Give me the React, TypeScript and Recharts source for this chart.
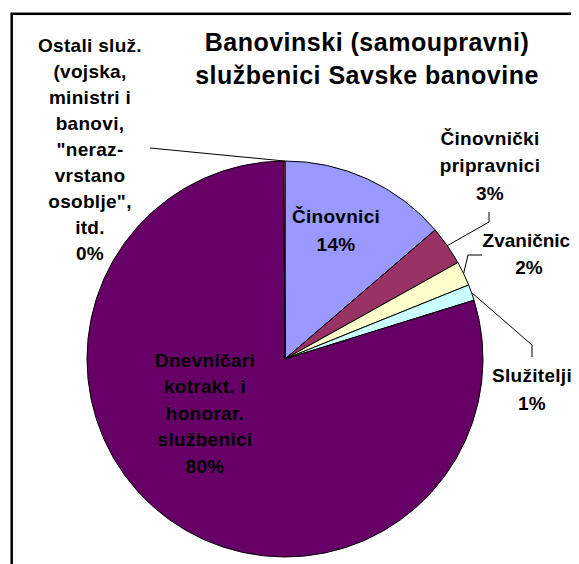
import React from 'react';
import { PieChart, Pie, Cell } from 'recharts';

const categories = [
  'Činovnici',
  'Činovnički pripravnici',
  'Zvaničnici',
  'Služitelji',
  'Dnevničari kotrakt. i honorar. službenici',
  'Ostali služ. (vojska, ministri i banovi, "neraz-vrstano osoblje", itd.)',
];
const values = [13.7, 3.2, 2.0, 1.3, 79.7, 0.1];
const labelLines = [
  ['Činovnici'],
  ['Činovnički', 'pripravnici'],
  ['Zvaničnici'],
  ['Služitelji'],
  ['Dnevničari', 'kotrakt. i', 'honorar.', 'službenici'],
  ['Ostali služ.', '(vojska,', 'ministri i', 'banovi,', '"neraz-', 'vrstano', 'osoblje",', 'itd.'],
];
const colors = ['#9999FF', '#993366', '#FFFFCC', '#CCFFFF', '#660066', '#FF8080'];
const titleLines = ['Banovinski (samoupravni)', 'službenici Savske banovine'];

const data = categories.map((name, i) => ({ name, value: values[i], idx: i }));

// label placement relative to pie centre (layout only)
type Layout = { tx: number; ty: number; lh: number; ls: number; path?: [number, number][] };
const labelLayout: Layout[] = [
  { tx: 51, ty: -143, lh: 28, ls: 0.3 },
  { tx: 205, ty: -221, lh: 27.5, ls: 0.3, path: [[204, -137], [204, -147]] },
  { tx: 244, ty: -119, lh: 27.5, ls: 0, path: [[183, -104], [197, -104]] },
  { tx: 247, ty: 16, lh: 28, ls: 0.3, path: [[247, -14], [247, -2]] },
  { tx: -80, ty: 1, lh: 26.5, ls: 0.3 },
  { tx: -195, ty: -314, lh: 26, ls: 0.3, path: [[-135, -211]] },
];

const FONT = '"Liberation Sans", Arial, sans-serif';
const RAD = Math.PI / 180;

const renderLabel = (props: any) => {
  const { cx, cy, midAngle, outerRadius, percent, index } = props;
  const lay = labelLayout[index];
  const lines = [...labelLines[index], `${Math.round(percent * 100)}%`];
  const ex = cx + Math.cos(-midAngle * RAD) * outerRadius;
  const ey = cy + Math.sin(-midAngle * RAD) * outerRadius;
  return (
    <g key={`lbl-${index}`}>
      {lay.path && (
        <polyline
          points={[[ex, ey], ...lay.path.map(([x, y]) => [cx + x, cy + y])].map((p) => p.join(',')).join(' ')}
          fill="none"
          stroke="#000"
          strokeWidth={1}
        />
      )}
      <text
        textAnchor="middle"
        fontFamily={FONT}
        fontWeight="bold"
        fontSize={19}
        fill="#000"
        letterSpacing={lay.ls}
      >
        {lines.map((ln, i) => (
          <tspan key={i} x={cx + lay.tx} y={cy + lay.ty + i * lay.lh} dominantBaseline="central">
            {ln}
          </tspan>
        ))}
      </text>
    </g>
  );
};

export default function App() {
  return (
    <PieChart width={571} height={556} margin={{ top: 0, right: 0, bottom: 0, left: 0 }}>
      <rect x={3.7} y={5.8} width={1000} height={1000} fill="#fff" stroke="#000" strokeWidth={2.5} />
      <text textAnchor="middle" fontFamily={FONT} fontWeight="bold" fontSize={25} fill="#000" letterSpacing={0.5}>
        {titleLines.map((t, i) => (
          <tspan key={i} x={359} y={34 + i * 33} dominantBaseline="central">
            {t}
          </tspan>
        ))}
      </text>
      <Pie
        data={data}
        dataKey="value"
        nameKey="name"
        cx={277}
        cy={351}
        outerRadius={198}
        startAngle={90}
        endAngle={-270}
        stroke="#000"
        strokeWidth={1}
        isAnimationActive={false}
        labelLine={false}
        label={renderLabel}
      >
        {data.map((d, i) => (
          <Cell key={i} fill={colors[i]} />
        ))}
      </Pie>
    </PieChart>
  );
}
